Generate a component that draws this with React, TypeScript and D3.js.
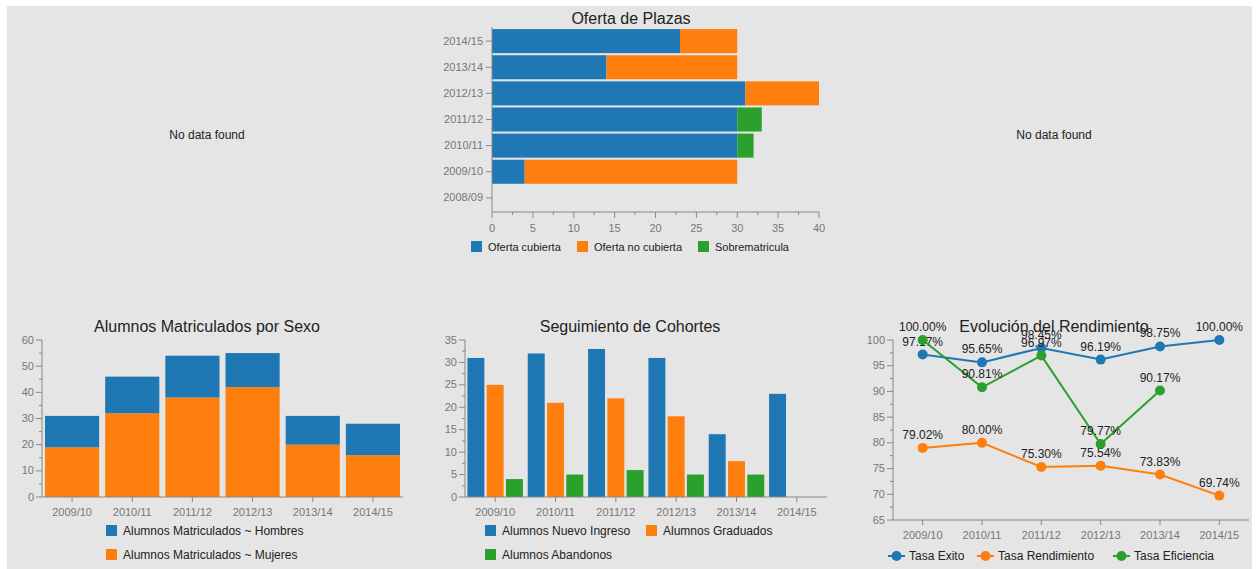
import React, { useEffect } from 'react';
import * as d3 from 'd3';

const years = ['2009/10', '2010/11', '2011/12', '2012/13', '2013/14', '2014/15'];

// Oferta de Plazas (top, horizontal stacked)
const ofertaYears = ['2014/15', '2013/14', '2012/13', '2011/12', '2010/11', '2009/10', '2008/09'];
const ofertaCubierta = [23, 14, 31, 30, 30, 4, 0];
const ofertaNoCubierta = [7, 16, 9, 0, 0, 26, 0];
const sobrematricula = [0, 0, 0, 3, 2, 0, 0];
const ofertaKeys = ['Oferta cubierta', 'Oferta no cubierta', 'Sobrematricula'];

// Alumnos Matriculados por Sexo
const mujeres = [19, 32, 38, 42, 20, 16];
const hombres = [12, 14, 16, 13, 11, 12];
const sexoKeys = ['Alumnos Matriculados ~ Hombres', 'Alumnos Matriculados ~ Mujeres'];

// Seguimiento de Cohortes
const nuevoIngreso = [31, 32, 33, 31, 14, 23];
const graduados = [25, 21, 22, 18, 8, null];
const abandonos = [4, 5, 6, 5, 5, null];
const cohorteKeys = ['Alumnos Nuevo Ingreso', 'Alumnos Graduados', 'Alumnos Abandonos'];

// Evolución del Rendimiento
const tasaExito = [97.17, 95.65, 98.45, 96.19, 98.75, 100];
const tasaRendimiento = [79.02, 80.0, 75.3, 75.54, 73.83, 69.74];
const tasaEficiencia = [100, 90.81, 96.97, 79.77, 90.17, null];
const tasaKeys = ['Tasa Exito', 'Tasa Rendimiento', 'Tasa Eficiencia'];

const colors = ['#1f77b4', '#ff7f0e', '#2ca02c'];
const axisColor = '#888';
const tickText = '#777';
const font = 'Arial, "Liberation Sans", sans-serif';

function LeftAxis({ y, x0, ticks, minor }: any) {
  const [r0, r1] = y.range();
  return (
    <g>
      <line x1={x0} x2={x0} y1={r0} y2={r1} stroke={axisColor} />
      {minor.map((t: number) => (
        <line key={'m' + t} x1={x0 - 3} x2={x0} y1={y(t)} y2={y(t)} stroke={axisColor} />
      ))}
      {ticks.map((t: number) => (
        <g key={t}>
          <line x1={x0 - 6} x2={x0} y1={y(t)} y2={y(t)} stroke={axisColor} />
          <text x={x0 - 8} y={y(t)} dy="0.32em" textAnchor="end" fontSize={11} fill={tickText}>
            {t}
          </text>
        </g>
      ))}
    </g>
  );
}

function BottomBandAxis({ x, y0, labels, center }: any) {
  const [r0, r1] = x.range();
  return (
    <g>
      <line x1={r0} x2={r1} y1={y0} y2={y0} stroke={axisColor} />
      {labels.map((l: string) => {
        const cx = center(l);
        return (
          <g key={l}>
            <line x1={cx} x2={cx} y1={y0} y2={y0 + 5} stroke={axisColor} />
            <text x={cx} y={y0 + 19} textAnchor="middle" fontSize={11} fill={tickText}>
              {l}
            </text>
          </g>
        );
      })}
    </g>
  );
}

function Swatch({ x, y, color, label, size = 12 }: any) {
  return (
    <g>
      <rect x={x} y={y - 6} width={11} height={11} fill={color} />
      <text x={x + 17} y={y} dy="0.35em" fontSize={size} fill="#222">
        {label}
      </text>
    </g>
  );
}

function OfertaChart() {
  const x = d3.scaleLinear().domain([0, 40]).range([492, 819]);
  const y = d3.scaleBand().domain(ofertaYears).range([27, 212]).padding(0.08);
  const rows = ofertaYears.map((yr, i) => ({
    year: yr,
    'Oferta cubierta': ofertaCubierta[i],
    'Oferta no cubierta': ofertaNoCubierta[i],
    Sobrematricula: sobrematricula[i],
  }));
  const series = d3.stack<any>().keys(ofertaKeys)(rows);
  const major = x.ticks(8);
  const minor = d3.range(2.5, 40, 5);
  return (
    <g>
      <text x={631} y={24} textAnchor="middle" fontSize={16} fill="#222">
        Oferta de Plazas
      </text>
      {series.map((s, si) =>
        s.map((d: any) =>
          d[1] - d[0] > 0 ? (
            <rect
              key={si + d.data.year}
              x={x(d[0])}
              y={y(d.data.year)}
              width={x(d[1]) - x(d[0])}
              height={y.bandwidth()}
              fill={colors[si]}
            />
          ) : null
        )
      )}
      <line x1={492} x2={492} y1={27} y2={212} stroke={axisColor} />
      {ofertaYears.map((yr) => {
        const cy = (y(yr) as number) + y.bandwidth() / 2;
        return (
          <g key={yr}>
            <line x1={486} x2={492} y1={cy} y2={cy} stroke={axisColor} />
            <text x={483} y={cy} dy="0.32em" textAnchor="end" fontSize={11} fill={tickText}>
              {yr}
            </text>
          </g>
        );
      })}
      <line x1={492} x2={819} y1={212} y2={212} stroke={axisColor} />
      {minor.map((t) => (
        <line key={'m' + t} x1={x(t)} x2={x(t)} y1={212} y2={215} stroke={axisColor} />
      ))}
      {major.map((t) => (
        <g key={t}>
          <line x1={x(t)} x2={x(t)} y1={212} y2={218} stroke={axisColor} />
          <text x={x(t)} y={232} textAnchor="middle" fontSize={11} fill={tickText}>
            {t}
          </text>
        </g>
      ))}
      <Swatch x={471} y={247} color={colors[0]} label={ofertaKeys[0]} size={11} />
      <Swatch x={577} y={247} color={colors[1]} label={ofertaKeys[1]} size={11} />
      <Swatch x={698} y={247} color={colors[2]} label={ofertaKeys[2]} size={11} />
    </g>
  );
}

function SexoChart() {
  const x = d3.scaleBand().domain(years).range([42, 403]).paddingInner(0.1).paddingOuter(0.05);
  const y = d3.scaleLinear().domain([0, 60]).range([497, 340]);
  const rows = years.map((yr, i) => ({
    year: yr,
    'Alumnos Matriculados ~ Mujeres': mujeres[i],
    'Alumnos Matriculados ~ Hombres': hombres[i],
  }));
  const series = d3.stack<any>().keys([sexoKeys[1], sexoKeys[0]])(rows);
  const sColors = [colors[1], colors[0]];
  return (
    <g>
      <text x={207} y={332} textAnchor="middle" fontSize={16} fill="#222">
        Alumnos Matriculados por Sexo
      </text>
      {series.map((s, si) =>
        s.map((d: any) => (
          <rect
            key={si + d.data.year}
            x={x(d.data.year)}
            y={y(d[1])}
            width={x.bandwidth()}
            height={y(d[0]) - y(d[1])}
            fill={sColors[si]}
          />
        ))
      )}
      <LeftAxis y={y} x0={42} ticks={y.ticks(6)} minor={d3.range(5, 60, 10)} />
      <BottomBandAxis x={x} y0={497} labels={years} center={(l: string) => (x(l) as number) + x.bandwidth() / 2} />
      <Swatch x={106} y={531} color={colors[0]} label={sexoKeys[0]} />
      <Swatch x={106} y={555} color={colors[1]} label={sexoKeys[1]} />
    </g>
  );
}

function CohorteChart() {
  const x0 = d3.scaleBand().domain(years).range([465, 827]).paddingInner(0.08).paddingOuter(0.04);
  const x1 = d3.scaleBand().domain(cohorteKeys).range([0, x0.bandwidth()]).paddingInner(0.12);
  const y = d3.scaleLinear().domain([0, 35]).range([497, 340]);
  const data = [nuevoIngreso, graduados, abandonos];
  return (
    <g>
      <text x={630} y={332} textAnchor="middle" fontSize={16} fill="#222">
        Seguimiento de Cohortes
      </text>
      {years.map((yr, i) =>
        cohorteKeys.map((k, ki) => {
          const v = data[ki][i];
          if (v == null) return null;
          return (
            <rect
              key={yr + k}
              x={(x0(yr) as number) + (x1(k) as number)}
              y={y(v)}
              width={x1.bandwidth()}
              height={y(0) - y(v)}
              fill={colors[ki]}
            />
          );
        })
      )}
      <LeftAxis y={y} x0={465} ticks={y.ticks(7)} minor={d3.range(2.5, 35, 5)} />
      <BottomBandAxis x={x0} y0={497} labels={years} center={(l: string) => (x0(l) as number) + x0.bandwidth() / 2} />
      <Swatch x={485} y={531} color={colors[0]} label={cohorteKeys[0]} />
      <Swatch x={646} y={531} color={colors[1]} label={cohorteKeys[1]} />
      <Swatch x={485} y={555} color={colors[2]} label={cohorteKeys[2]} />
    </g>
  );
}

function RendimientoChart() {
  const x = d3.scalePoint().domain(years).range([893, 1249]).padding(0.5);
  const y = d3.scaleLinear().domain([65, 100]).range([520, 340]);
  const data = [tasaExito, tasaRendimiento, tasaEficiencia];
  const ln = d3
    .line<any>()
    .defined((d: any) => d.v != null)
    .x((d: any) => x(d.yr) as number)
    .y((d: any) => y(d.v));
  const legendX = [888, 977, 1113];
  return (
    <g>
      <text x={1054} y={332} textAnchor="middle" fontSize={16} fill="#222">
        Evolución del Rendimiento
      </text>
      <LeftAxis y={y} x0={893} ticks={y.ticks(7)} minor={d3.range(67.5, 100, 5)} />
      <BottomBandAxis x={{ range: () => [893, 1249] }} y0={520} labels={years} center={(l: string) => x(l)} />
      {data.map((vals, si) => {
        const pts = years.map((yr, i) => ({ yr, v: vals[i] }));
        return (
          <g key={si}>
            <path d={ln(pts) || ''} fill="none" stroke={colors[si]} strokeWidth={2} />
            {pts
              .filter((p) => p.v != null)
              .map((p) => (
                <g key={p.yr}>
                  <circle cx={x(p.yr)} cy={y(p.v as number)} r={5} fill={colors[si]} />
                  <text x={x(p.yr)} y={y(p.v as number) - 9} textAnchor="middle" fontSize={12} fill="#222">
                    {(p.v as number).toFixed(2)}%
                  </text>
                </g>
              ))}
          </g>
        );
      })}
      {tasaKeys.map((k, i) => (
        <g key={k}>
          <line x1={legendX[i]} x2={legendX[i] + 17} y1={556} y2={556} stroke={colors[i]} strokeWidth={2} />
          <circle cx={legendX[i] + 8.5} cy={556} r={5} fill={colors[i]} />
          <text x={legendX[i] + 21} y={556} dy="0.35em" fontSize={12} fill="#222">
            {k}
          </text>
        </g>
      ))}
    </g>
  );
}

export default function App() {
  useEffect(() => {
    document.body.style.margin = '0';
  }, []);
  return (
    <svg width={1260} height={569} style={{ display: 'block', fontFamily: font }}>
      <rect x={0} y={0} width={1260} height={569} fill="#fff" />
      <rect x={7} y={6} width={1245} height={563} fill="#e5e5e5" />
      <text x={207} y={135} dy="0.35em" textAnchor="middle" fontSize={12} fill="#222">
        No data found
      </text>
      <text x={1054} y={135} dy="0.35em" textAnchor="middle" fontSize={12} fill="#222">
        No data found
      </text>
      <OfertaChart />
      <SexoChart />
      <CohorteChart />
      <RendimientoChart />
    </svg>
  );
}
